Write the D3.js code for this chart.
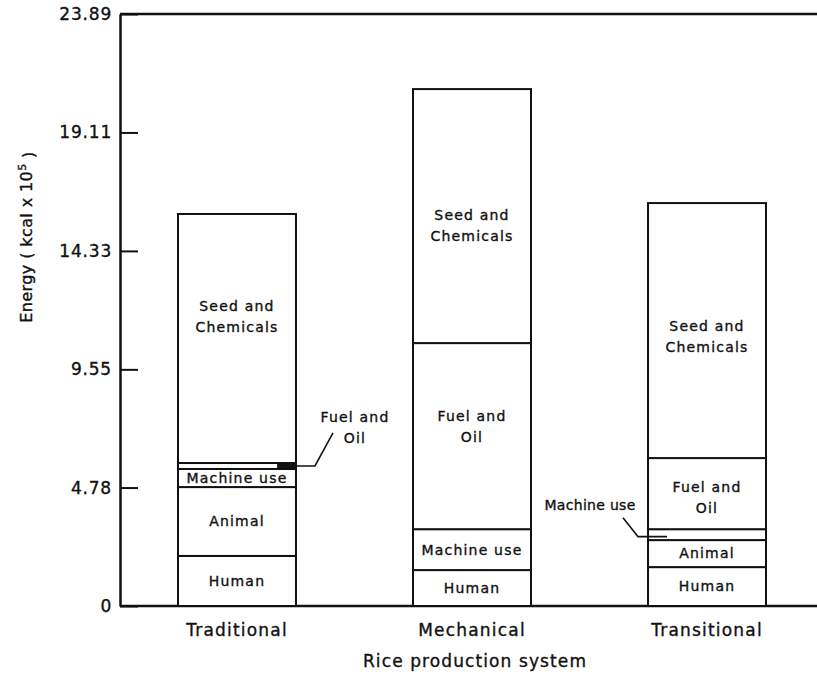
<!DOCTYPE html>
<html>
<head>
<meta charset="utf-8">
<script src="https://cdn.jsdelivr.net/npm/d3@7"></script>
<style>
  html, body { margin: 0; padding: 0; background: #fff; }
  svg { display: block; }
  text { font-family: "DejaVu Sans", sans-serif; fill: #111; stroke: #111; stroke-width: 0.35px; }
</style>
</head>
<body>
<svg id="chart" width="817" height="674"></svg>
<script>
// ---- data (kcal x 10^5) ----
const categories = ["Traditional", "Mechanical", "Transitional"];
const segmentNames = ["Human", "Animal", "Machine use", "Fuel and Oil", "Seed and Chemicals"];
const human   = [2.02, 1.45, 1.57];
const animal  = [2.78, 0.00, 1.09];
const machine = [0.73, 1.65, 0.44];
const fuel    = [0.24, 7.51, 2.87];
const seed    = [10.05, 10.25, 10.29];
const tickValues = [0, 4.78, 9.55, 14.33, 19.11, 23.89];
const tickLabels = ["0", "4.78", "9.55", "14.33", "19.11", "23.89"];
const yMax = 23.89;

const rows = categories.map((c, i) => ({
  cat: c,
  "Human": human[i],
  "Animal": animal[i],
  "Machine use": machine[i],
  "Fuel and Oil": fuel[i],
  "Seed and Chemicals": seed[i]
}));

// ---- layout ----
const svg = d3.select("#chart");
const axisX = 120, plotTop = 14, plotBottom = 606, rightEdge = 817;

const y = d3.scaleLinear().domain([0, yMax]).range([plotBottom, plotTop]);
const x = d3.scaleBand().domain(categories).range([178, 766]).paddingInner(0.498).paddingOuter(0);

const stacked = d3.stack().keys(segmentNames)(rows);

// frame: top line and baseline
svg.append("line").attr("x1", axisX).attr("x2", rightEdge).attr("y1", y(yMax)).attr("y2", y(yMax))
  .attr("stroke", "#111").attr("stroke-width", 2.5);
svg.append("line").attr("x1", axisX).attr("x2", rightEdge).attr("y1", y(0)).attr("y2", y(0))
  .attr("stroke", "#111").attr("stroke-width", 2.5);

// y axis
const yAxis = d3.axisLeft(y).tickValues(tickValues)
  .tickFormat((d, i) => tickLabels[i]).tickSizeInner(-18).tickSizeOuter(0).tickPadding(8);
const gy = svg.append("g").attr("transform", `translate(${axisX},0)`).call(yAxis);
gy.select(".domain").attr("stroke", "#111").attr("stroke-width", 2.5);
gy.selectAll(".tick line").attr("stroke", "#111").attr("stroke-width", 2);
gy.selectAll(".tick text").style("font-family", '"DejaVu Sans", sans-serif')
  .style("font-size", "17px").style("letter-spacing", "0.8px").attr("fill", "#111");

// bars
const segG = svg.append("g");
stacked.forEach(layer => {
  layer.forEach((d, i) => {
    if (d[1] - d[0] <= 0) return;
    segG.append("rect")
      .attr("x", x(categories[i]))
      .attr("y", y(d[1]))
      .attr("width", x.bandwidth())
      .attr("height", y(d[0]) - y(d[1]))
      .attr("fill", "#fff")
      .attr("stroke", "#111")
      .attr("stroke-width", 2);
  });
});

// traditional thin fuel band: black filled right part
(function () {
  const fl = stacked[3][0];
  const bx = x(categories[0]), bw = x.bandwidth();
  svg.append("rect")
    .attr("x", bx + bw * 0.84).attr("y", y(fl[1]))
    .attr("width", bw * 0.16).attr("height", y(fl[0]) - y(fl[1]))
    .attr("fill", "#111");
})();

// segment labels
const labelFont = 14;
const labelShift = {
  "Traditional|Seed and Chemicals": -22,
  "Mechanical|Seed and Chemicals": 10,
  "Mechanical|Fuel and Oil": -10,
  "Transitional|Seed and Chemicals": 6,
  "Transitional|Fuel and Oil": 4
};
function addLabel(cx, cy, lines) {
  const t = svg.append("text").attr("text-anchor", "middle")
    .style("font-size", labelFont + "px").style("letter-spacing", "1.2px");
  const lh = 21;
  lines.forEach((ln, k) => {
    t.append("tspan").attr("x", cx)
      .attr("y", cy + (k - (lines.length - 1) / 2) * lh)
      .attr("dy", "0.35em").text(ln);
  });
}
const labelLines = {
  "Human": ["Human"], "Animal": ["Animal"], "Machine use": ["Machine use"],
  "Fuel and Oil": ["Fuel and", "Oil"], "Seed and Chemicals": ["Seed and", "Chemicals"]
};
stacked.forEach(layer => {
  const key = layer.key;
  layer.forEach((d, i) => {
    const cat = categories[i];
    if (d[1] - d[0] <= 0) return;
    if (cat === "Traditional" && key === "Fuel and Oil") return;
    if (cat === "Transitional" && key === "Machine use") return;
    const cx = x(cat) + x.bandwidth() / 2;
    const cy = (y(d[0]) + y(d[1])) / 2 + (labelShift[cat + "|" + key] || 0);
    addLabel(cx, cy, labelLines[key]);
  });
});

// leader: Traditional fuel and oil
(function () {
  const fl = stacked[3][0];
  const bx = x(categories[0]) + x.bandwidth();
  const yy = (y(fl[0]) + y(fl[1])) / 2;
  svg.append("path")
    .attr("d", `M${bx},${yy} L${bx + 19},${yy} L${bx + 37},${yy - 33}`)
    .attr("fill", "none").attr("stroke", "#111").attr("stroke-width", 1.6);
  addLabel(bx + 59, yy - 38, ["Fuel and", "Oil"]);
})();

// leader: Transitional machine use
(function () {
  const mc = stacked[2][2];
  const bx = x(categories[2]);
  const yy = (y(mc[0]) + y(mc[1])) / 2 + 2;
  svg.append("path")
    .attr("d", `M${bx + 19},${yy} L${bx - 10},${yy} L${bx - 25},${yy - 19}`)
    .attr("fill", "none").attr("stroke", "#111").attr("stroke-width", 1.6);
  svg.append("text").attr("text-anchor", "middle")
    .attr("x", bx - 58).attr("y", yy - 32).attr("dy", "0.35em")
    .style("font-size", labelFont + "px").style("letter-spacing", "0.3px")
    .text("Machine use");
})();

// x category labels
categories.forEach(c => {
  svg.append("text").attr("text-anchor", "middle")
    .attr("x", x(c) + x.bandwidth() / 2).attr("y", 630).attr("dy", "0.35em")
    .style("font-size", "17px").style("letter-spacing", "1.2px").text(c);
});

// x axis title
svg.append("text").attr("text-anchor", "middle")
  .attr("x", 475).attr("y", 661).attr("dy", "0.35em")
  .style("font-size", "17px").style("letter-spacing", "1.1px").text("Rice production system");

// y axis title
const yt = svg.append("text").attr("text-anchor", "middle")
  .attr("transform", "translate(26,237) rotate(-90)")
  .attr("dy", "0.35em")
  .style("font-size", "16px").style("letter-spacing", "0.4px");
yt.append("tspan").text("Energy  ( kcal x 10");
yt.append("tspan").attr("dy", "-0.5em").style("font-size", "11px").text("5");
yt.append("tspan").attr("dy", "0.5em").text(" )");
</script>
</body>
</html>
